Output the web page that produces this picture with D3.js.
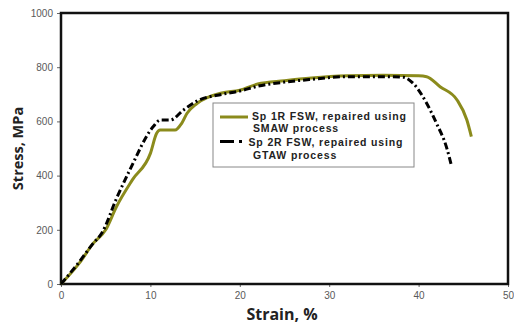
<!DOCTYPE html>
<html>
<head>
<meta charset="utf-8">
<script src="https://cdn.jsdelivr.net/npm/d3@7"></script>
<style>
  body { margin: 0; background: #fff; }
  svg { display: block; }
</style>
</head>
<body>
<div id="chart"></div>
<script>
// strain (%) vs stress (MPa)
const smawStrain = [0, 2, 3.6, 5, 6.2, 8, 10, 10.7, 11.1, 12.75, 13.5, 14.1, 15.2, 18, 20, 22, 25, 28, 32, 36, 40, 40.9, 42.4, 44.3, 45.4, 45.9];
const smawStress = [0, 75, 150, 200, 285, 385, 482, 556, 568, 568, 593, 630, 666, 705, 715, 738, 750, 760, 768, 770, 768, 765, 728, 679, 605, 544];

const gtawStrain = [0, 2, 3.6, 4.55, 6.2, 7.7, 10.3, 11.1, 12.2, 13.7, 15.2, 18, 20, 22, 25, 28, 32, 36, 38.3, 39.4, 40.9, 42, 43.1, 43.7];
const gtawStress = [0, 80, 150, 187, 315, 421, 580, 605, 605, 642, 675, 700, 712, 730, 745, 755, 765, 765, 763, 740, 667, 593, 507, 433];

const xTicks = [0, 10, 20, 30, 40, 50];
const yTicks = [0, 200, 400, 600, 800, 1000];

const seriesNames = ['Sp 1R FSW, repaired using', 'SMAW process', 'Sp 2R FSW, repaired using', 'GTAW process'];

const width = 514, height = 326;
const margin = {left: 61, right: 6, top: 13, bottom: 42};

const svg = d3.select('#chart').append('svg')
    .attr('width', width)
    .attr('height', height);

const x = d3.scaleLinear().domain([0, 50]).range([margin.left, width - margin.right]);
const y = d3.scaleLinear().domain([0, 1000]).range([height - margin.bottom, margin.top]);

// axes
const xAxis = svg.append('g')
    .attr('transform', `translate(0,${y(0)})`)
    .call(d3.axisBottom(x).tickValues(xTicks).tickFormat(d3.format('d')).tickSize(3).tickPadding(5));
const yAxis = svg.append('g')
    .attr('transform', `translate(${x(0)},0)`)
    .call(d3.axisLeft(y).tickValues(yTicks).tickFormat(d3.format('d')).tickSize(4).tickPadding(4));

[xAxis, yAxis].forEach(a => {
    a.select('.domain').remove();
    a.selectAll('line').attr('stroke', '#666');
    a.selectAll('text')
        .attr('fill', '#595959')
        .style('font-family', 'Liberation Sans, Arial, sans-serif')
        .style('font-size', '10px');
});

// frame
svg.append('rect')
    .attr('x', x(0))
    .attr('y', y(1000))
    .attr('width', x(50) - x(0))
    .attr('height', y(0) - y(1000))
    .attr('fill', 'none')
    .attr('stroke', '#111')
    .attr('stroke-width', 2.5);

const line = d3.line()
    .x(d => x(d[0]))
    .y(d => y(d[1]))
    .curve(d3.curveMonotoneX);

svg.append('path')
    .datum(smawStrain.map((s, i) => [s, smawStress[i]]))
    .attr('d', line)
    .attr('fill', 'none')
    .attr('stroke', '#8b8b1c')
    .attr('stroke-width', 3);

svg.append('path')
    .datum(gtawStrain.map((s, i) => [s, gtawStress[i]]))
    .attr('d', line)
    .attr('fill', 'none')
    .attr('stroke', '#000')
    .attr('stroke-width', 3)
    .attr('stroke-dasharray', '7,3,2,3');

// axis titles
svg.append('text')
    .attr('x', 282)
    .attr('y', 320)
    .attr('text-anchor', 'middle')
    .style('font-family', 'Open Sans, sans-serif')
    .style('font-weight', 'bold')
    .style('font-size', '16px')
    .attr('fill', '#222')
    .text('Strain, %');

svg.append('text')
    .attr('transform', `translate(23,${y(500)}) rotate(-90)`)
    .attr('text-anchor', 'middle')
    .style('font-family', 'Open Sans, sans-serif')
    .style('font-weight', 'bold')
    .style('font-size', '14.5px')
    .attr('fill', '#222')
    .text('Stress, MPa');

// legend
const lg = svg.append('g');
lg.append('rect')
    .attr('x', 213).attr('y', 103)
    .attr('width', 201).attr('height', 64)
    .attr('fill', '#fff')
    .attr('stroke', '#888')
    .attr('stroke-width', 1);

lg.append('line')
    .attr('x1', 220).attr('x2', 248).attr('y1', 117).attr('y2', 117)
    .attr('stroke', '#8b8b1c').attr('stroke-width', 3);
lg.append('line')
    .attr('x1', 220).attr('x2', 247).attr('y1', 141.5).attr('y2', 141.5)
    .attr('stroke', '#000').attr('stroke-width', 3)
    .attr('stroke-dasharray', '14,5,3,10');

const legendPos = [[252, 119.5], [253, 132], [248.5, 145.5], [253, 158.5]];
lg.selectAll('text.lbl')
    .data(seriesNames)
    .join('text')
    .attr('class', 'lbl')
    .attr('x', (d, i) => legendPos[i][0])
    .attr('y', (d, i) => legendPos[i][1])
    .style('font-family', 'Liberation Sans, Arial, sans-serif')
    .style('font-weight', 'bold')
    .style('font-size', '10.5px')
    .style('letter-spacing', '0.85px')
    .attr('fill', '#222')
    .text(d => d);
</script>
</body>
</html>
